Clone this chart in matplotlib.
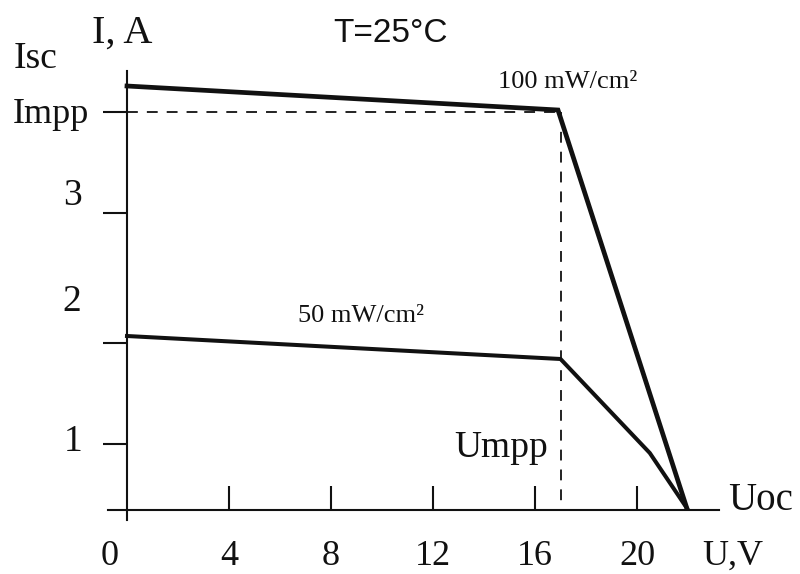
import matplotlib
matplotlib.use('Agg')
import matplotlib.pyplot as plt

plt.rcParams['font.family'] = ['Liberation Serif', 'DejaVu Serif']

# схема ВАХ солнечной батареи
u_100 = [0, 16.9, 21.95]
i_100 = [4.24, 4.00, 0.02]
u_50 = [0, 17.0, 20.5, 21.95]
i_50 = [1.74, 1.51, 0.57, 0.02]

u_mpp = 17.0
i_mpp = 3.98

x_ticks = [4, 8, 12, 16, 20]
x_labels = ['4', '8', '12', '16', '20']
# засечки по оси I на картинке стоят неравномерно
y_ticks = [0.66, 1.67, 2.97, 3.98]

fig = plt.figure(figsize=(8, 5.74), dpi=100)
ax = fig.add_axes([0, 0, 1, 1])
ax.set_xlim(-4.98, 26.39)
ax.set_ylim(-0.64, 5.10)
ax.patch.set_alpha(0)

ax.spines['top'].set_visible(False)
ax.spines['right'].set_visible(False)
ax.spines['left'].set_position(('data', 0))
ax.spines['bottom'].set_position(('data', 0))
ax.spines['left'].set_bounds(-0.1, 4.39)
ax.spines['bottom'].set_bounds(-0.75, 23.2)
for s in ['left', 'bottom']:
    ax.spines[s].set_linewidth(1.5)
    ax.spines[s].set_color('#111111')

ax.set_xticks(x_ticks)
ax.set_xticklabels(x_labels)
ax.tick_params(axis='x', direction='in', length=17, width=1.5, pad=39.5,
               labelsize=26, colors='#111111')
for lab in ax.get_xticklabels():
    lab.set_va('baseline')
ax.set_yticks(y_ticks)
ax.set_yticklabels([])
ax.tick_params(axis='y', direction='out', length=17, width=1.5, colors='#111111')

# пунктир Impp / Umpp
ax.plot([0, u_mpp], [i_mpp, i_mpp], color='#111111', lw=1.3, dashes=(6, 5))
ax.plot([u_mpp, u_mpp], [i_mpp, 0.03], color='#111111', lw=1.3, dashes=(6, 5))

ax.plot(u_100, i_100, color='#111111', lw=3.4, solid_joinstyle='miter')
ax.plot(u_50, i_50, color='#111111', lw=2.9, solid_joinstyle='round')

k = dict(color='#111111')
ax.text(-1.37, 4.67, 'I, A', fontsize=29, va='baseline', **k)
ax.text(-4.43, 4.42, 'Isc', fontsize=27, va='baseline', **k)
ax.text(-1.49, 3.87, 'Impp', fontsize=26, ha='right', va='baseline', **k)
ax.text(-2.12, 3.14, '3', fontsize=27, ha='center', va='center', **k)
ax.text(-2.16, 2.08, '2', fontsize=27, ha='center', va='center', **k)
ax.text(-2.12, 0.68, '1', fontsize=27, ha='center', va='center', **k)
ax.text(8.08, 4.68, 'T=25°C', fontsize=24, family='Liberation Sans', va='baseline', **k)
ax.text(14.55, 4.22, '100 mW/cm²', fontsize=19, va='baseline', **k)
ax.text(6.71, 1.88, '50 mW/cm²', fontsize=19, va='baseline', **k)
ax.text(16.51, 0.53, 'Umpp', fontsize=27, ha='right', va='baseline', **k)
ax.text(23.57, 0.0, 'Uoc', fontsize=28, va='baseline', **k)
ax.text(22.55, -0.55, 'U,V', fontsize=26, va='baseline', **k)
ax.text(-0.67, -0.55, '0', fontsize=26, ha='center', va='baseline', **k)

fig.savefig('out.png', dpi=100)
